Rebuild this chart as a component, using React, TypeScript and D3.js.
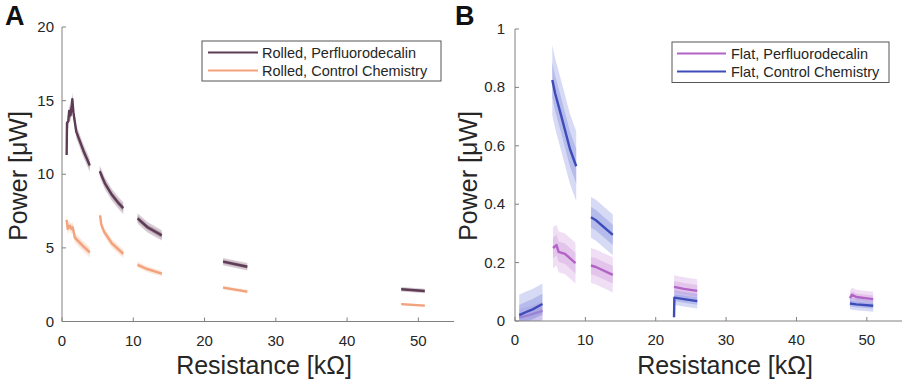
import React from "react";
import * as d3 from "d3";

type Pt = [number, number];

// ---------- shared ticks ----------
const resistanceTicks = [0, 10, 20, 30, 40, 50];
const powerTicksA = [0, 5, 10, 15, 20];
const powerTicksB = [0, 0.2, 0.4, 0.6, 0.8, 1];

// ---------- Panel A : rolled devices ----------
const rolledPerfluoro: Pt[][] = [
  [[0.65, 11.3], [0.7, 13.5], [0.9, 13.6], [1.0, 14.3], [1.2, 14.0], [1.45, 15.1], [1.6, 14.2], [2.0, 12.9], [3.0, 11.6], [3.9, 10.6]],
  [[5.3, 10.2], [6.0, 9.4], [7.0, 8.6], [8.0, 8.0], [8.6, 7.7]],
  [[10.6, 7.0], [12.0, 6.4], [14.0, 5.85]],
  [[22.6, 4.07], [26.0, 3.72]],
  [[47.6, 2.19], [50.9, 2.07]],
];
const rolledPerfluoroSpread = [0.45, 0.4, 0.35, 0.25, 0.15];

const rolledControl: Pt[][] = [
  [[0.65, 6.9], [0.8, 6.3], [1.1, 6.5], [1.3, 6.3], [1.5, 6.4], [1.8, 5.7], [3.0, 5.1], [3.9, 4.7]],
  [[5.35, 7.2], [5.5, 6.6], [5.9, 6.1], [7.0, 5.3], [8.6, 4.6]],
  [[10.6, 3.85], [12.0, 3.55], [14.0, 3.25]],
  [[22.6, 2.3], [26.0, 2.03]],
  [[47.6, 1.18], [50.9, 1.08]],
];
const rolledControlSpread = [0.35, 0.3, 0.2, 0.12, 0.08];

// ---------- Panel B : flat devices ----------
const flatPerfluoro: Pt[][] = [
  [[0.6, 0.012], [2.0, 0.02], [3.9, 0.035]],
  [[5.4, 0.25], [5.9, 0.26], [6.2, 0.237], [7.1, 0.23], [8.6, 0.198]],
  [[10.8, 0.19], [11.5, 0.185], [13.9, 0.158]],
  [[22.6, 0.117], [24.0, 0.11], [25.9, 0.103]],
  [[47.6, 0.078], [47.9, 0.09], [48.5, 0.082], [50.9, 0.075]],
];
const flatPerfluoroSpread = [0.03, 0.07, 0.06, 0.04, 0.025];

const flatControl: Pt[][] = [
  [[0.6, 0.02], [1.5, 0.03], [2.5, 0.04], [3.9, 0.058]],
  [[5.3, 0.825], [5.7, 0.78], [6.6, 0.7], [7.8, 0.59], [8.7, 0.53]],
  [[10.8, 0.355], [11.5, 0.345], [13.9, 0.295]],
  [[22.6, 0.013], [22.65, 0.08], [24.0, 0.075], [25.9, 0.068]],
  [[47.6, 0.06], [48.5, 0.057], [50.9, 0.052]],
];
const flatControlSpread = [0.07, 0.12, 0.07, 0.025, 0.02];

const seriesA = [
  { name: "Rolled, Perfluorodecalin", color: "#5f3c55", band: "#8a6a80", data: rolledPerfluoro, spread: rolledPerfluoroSpread },
  { name: "Rolled, Control Chemistry", color: "#f2a27c", band: "#f6c2a6", data: rolledControl, spread: rolledControlSpread },
];
const seriesB = [
  { name: "Flat, Perfluorodecalin", color: "#b263c6", band: "#d3a3e0", data: flatPerfluoro, spread: flatPerfluoroSpread },
  { name: "Flat, Control Chemistry", color: "#3d4cb8", band: "#8c96e0", data: flatControl, spread: flatControlSpread },
];

const FONT = "'Liberation Sans', Arial, Helvetica, sans-serif";
const AXIS = "#808080";
const TXT = "#262626";

interface PanelProps {
  letter: string;
  left: number; right: number; top: number; bottom: number;
  yMax: number;
  yTicks: number[];
  yFmt: (v: number) => string;
  series: typeof seriesA;
  legend: { x0: number; x1: number; y0: number; y1: number; lx0: number; lx1: number; tx: number; rows: number[] };
  letterX: number;
  ylabelX: number;
  xlabelX: number;
  ytickX: number;
}

function Panel(p: PanelProps) {
  const x = d3.scaleLinear().domain([0, 55]).range([p.left, p.right]);
  const y = d3.scaleLinear().domain([0, p.yMax]).range([p.bottom, p.top]);
  const line = d3.line<Pt>().x((d) => x(d[0])).y((d) => y(d[1]));
  const clipId = "clip" + p.letter;
  return (
    <g>
      <defs>
        <clipPath id={clipId}>
          <rect x={p.left} y={p.top - 6} width={p.right - p.left} height={p.bottom - p.top + 6} />
        </clipPath>
      </defs>
      <g clipPath={`url(#${clipId})`}>
        {p.series.map((s) => (
          <g key={s.name}>
            {s.data.map((seg, i) => {
              const sp = s.spread[i];
              const outer = d3.area<Pt>().x((d) => x(d[0])).y0((d) => y(d[1] - sp)).y1((d) => y(d[1] + sp));
              const inner = d3.area<Pt>().x((d) => x(d[0])).y0((d) => y(d[1] - sp * 0.5)).y1((d) => y(d[1] + sp * 0.5));
              return (
                <g key={i}>
                  <path d={outer(seg) || ""} fill={s.band} opacity={0.35} />
                  <path d={inner(seg) || ""} fill={s.band} opacity={0.45} />
                  <path d={line(seg) || ""} fill="none" stroke={s.color} strokeWidth={2.4} strokeLinejoin="round" />
                </g>
              );
            })}
          </g>
        ))}
      </g>
      {/* axes */}
      <line x1={p.left} x2={p.right} y1={p.bottom} y2={p.bottom} stroke={AXIS} strokeWidth={1} />
      <line x1={p.left} x2={p.left} y1={p.top} y2={p.bottom} stroke={AXIS} strokeWidth={1} />
      {resistanceTicks.map((t) => (
        <g key={"x" + t}>
          <line x1={x(t)} x2={x(t)} y1={p.bottom} y2={p.bottom - 4} stroke={AXIS} />
          <text x={x(t)} y={p.bottom + 24} textAnchor="middle" fontSize={15} fill={TXT} fontFamily={FONT}>{t}</text>
        </g>
      ))}
      {p.yTicks.map((t) => (
        <g key={"y" + t}>
          <line x1={p.left} x2={p.left + 4} y1={y(t)} y2={y(t)} stroke={AXIS} />
          <text x={p.ytickX} y={y(t) + 5} textAnchor="end" fontSize={15} fill={TXT} fontFamily={FONT}>{p.yFmt(t)}</text>
        </g>
      ))}
      <text x={p.xlabelX} y={374} textAnchor="middle" fontSize={25} fill={TXT} fontFamily={FONT}>Resistance [kΩ]</text>
      <text transform={`translate(${p.ylabelX},176) rotate(-90)`} textAnchor="middle" fontSize={25} fill={TXT} fontFamily={FONT}>Power [μW]</text>
      <text x={p.letterX} y={25} fontSize={27} fontWeight={900} fill="#111" fontFamily={FONT}>{p.letter}</text>
      {/* legend */}
      <rect x={p.legend.x0} y={p.legend.y0} width={p.legend.x1 - p.legend.x0} height={p.legend.y1 - p.legend.y0} fill="#fff" stroke="#555" strokeWidth={1} />
      {p.series.map((s, i) => (
        <g key={"lg" + i}>
          <line x1={p.legend.lx0} x2={p.legend.lx1} y1={p.legend.rows[i]} y2={p.legend.rows[i]} stroke={s.color} strokeWidth={2} />
          <text x={p.legend.tx} y={p.legend.rows[i] + 5} fontSize={14.5} fill={TXT} fontFamily={FONT}>{s.name}</text>
        </g>
      ))}
    </g>
  );
}

export default function App() {
  return (
    <svg width={907} height={382} style={{ position: "absolute", left: 0, top: 0, background: "#fff" }}>
      <rect x={0} y={0} width={907} height={382} fill="#fff" />
      <Panel
        letter="A"
        left={62} right={454} top={27} bottom={321.5}
        yMax={20}
        yTicks={powerTicksA}
        yFmt={(v) => String(v)}
        series={seriesA}
        legend={{ x0: 202, x1: 441, y0: 41, y1: 81, lx0: 208, lx1: 258, tx: 262, rows: [52.5, 70.5] }}
        letterX={5}
        ylabelX={27}
        xlabelX={264}
        ytickX={54}
      />
      <Panel
        letter="B"
        left={515} right={902} top={29} bottom={321}
        yMax={1}
        yTicks={powerTicksB}
        yFmt={(v) => (v === 0 ? "0" : v === 1 ? "1" : String(v))}
        series={seriesB}
        legend={{ x0: 672, x1: 889, y0: 42, y1: 82.5, lx0: 677, lx1: 726, tx: 731, rows: [53.5, 71.5] }}
        letterX={455}
        ylabelX={477}
        xlabelX={725}
        ytickX={505}
      />
    </svg>
  );
}
